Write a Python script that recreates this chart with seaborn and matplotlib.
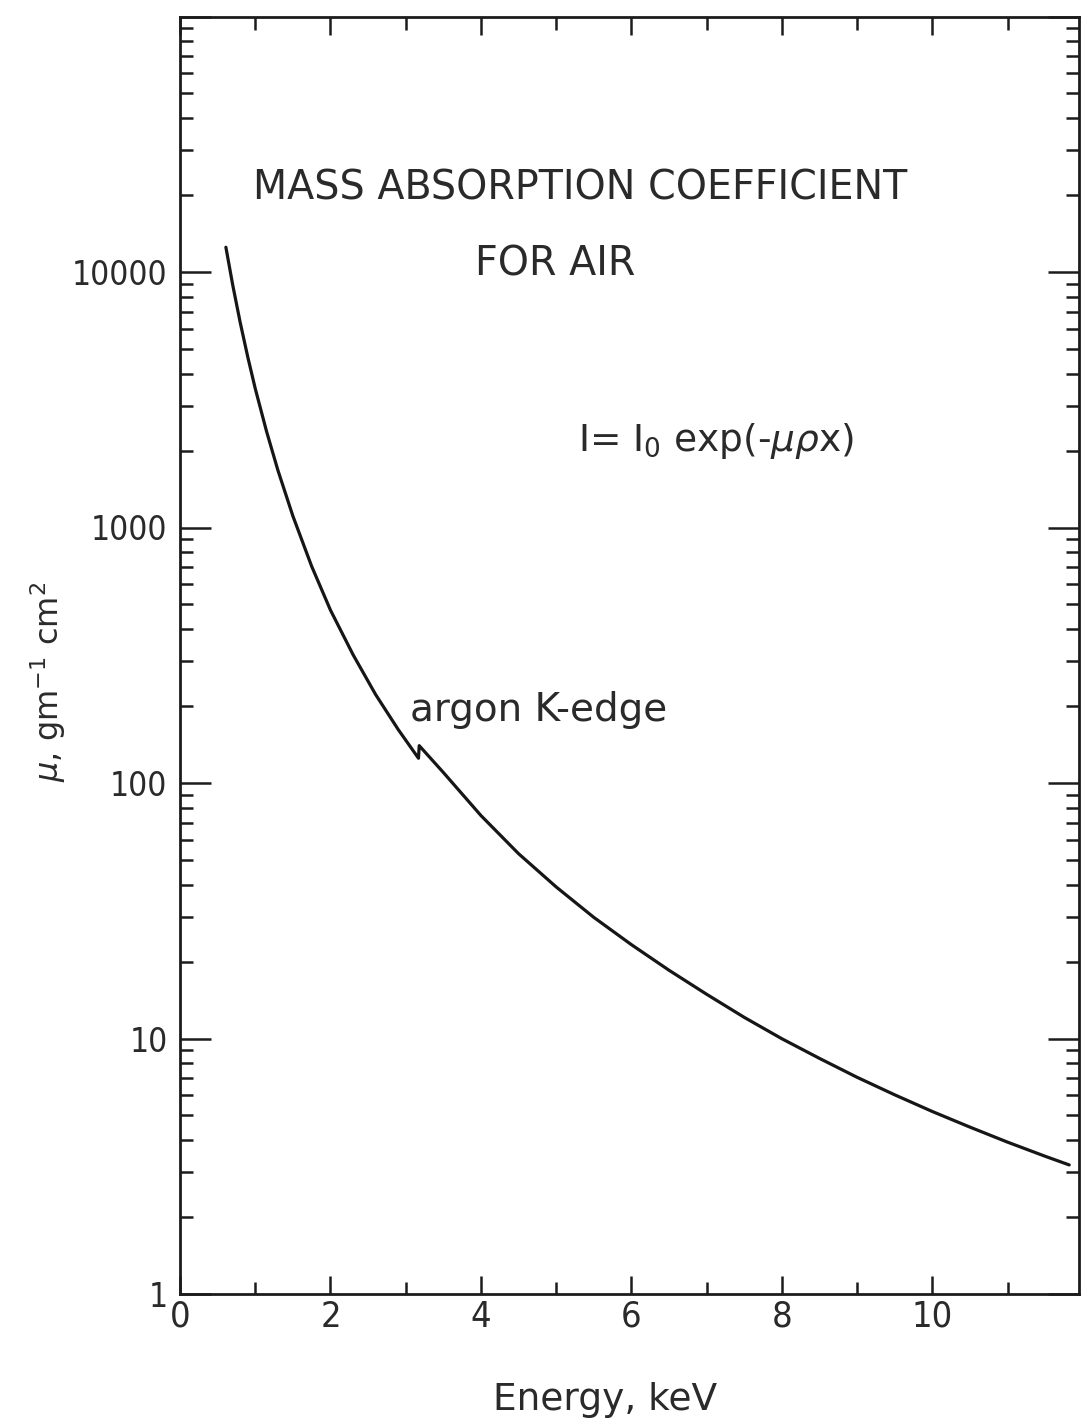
import matplotlib
matplotlib.use("Agg")
import matplotlib.pyplot as plt
from matplotlib import font_manager as fm
from matplotlib.ticker import MultipleLocator, LogLocator, FuncFormatter, NullFormatter
import seaborn as sns
import pandas as pd

# Mass absorption coefficient of air versus photon energy (argon K-edge near 3.2 keV)
energy_kev = [0.61, 0.70, 0.80, 0.90, 1.00, 1.15, 1.30, 1.50, 1.75, 2.00, 2.30, 2.60,
              2.90, 3.17,
              3.18, 3.50, 4.00, 4.50, 5.00, 5.50, 6.00, 6.50, 7.00, 7.50, 8.00, 8.50,
              9.00, 9.50, 10.00, 10.50, 11.00, 11.50, 11.82]
mu_cm2_per_g = [12500, 8920, 6350, 4660, 3500, 2380, 1680, 1110, 705, 475, 318, 222,
                162, 125,
                140, 110, 74.6, 52.9, 39.2, 29.8, 23.3, 18.5, 14.9, 12.1, 9.98, 8.36,
                7.05, 6.02, 5.18, 4.50, 3.93, 3.46, 3.20]

x_tick_values = [0, 2, 4, 6, 8, 10]
y_tick_values = [1, 10, 100, 1000, 10000]

title_lines = ["MASS ABSORPTION COEFFICIENT", "FOR AIR"]
equation_text = r"I= I$_0$ exp(-$\mu\rho$x)"
edge_text = "argon K-edge"
x_label = "Energy, keV"
y_label = r"$\mu$, gm$^{-1}$ cm$^{2}$"

sns.set_theme(style="ticks")
plt.rcParams["font.family"] = ["DejaVu Sans"]
plt.rcParams["mathtext.fontset"] = "dejavusans"

INK = "#2a2a2a"


def narrow_family():
    """Return a family/stretch pair for narrow digits if one is installed."""
    try:
        fm.findfont(fm.FontProperties(family="Liberation Sans Narrow"),
                    fallback_to_default=False)
        return "Liberation Sans Narrow", "normal"
    except ValueError:
        pass
    path = fm.findfont(fm.FontProperties(family="DejaVu Sans", stretch="condensed"))
    if "Condensed" in path:
        return "DejaVu Sans", "condensed"
    return "DejaVu Sans", "normal"


num_family, num_stretch = narrow_family()

W, H = 1088, 1422
fig = plt.figure(figsize=(W / 100, H / 100), dpi=100)
fig.patch.set_facecolor("white")

left, right, top, bottom = 180, 1079, 16.5, 1294
ax = fig.add_axes([left / W, 1 - bottom / H, (right - left) / W, (bottom - top) / H])
ax.set_facecolor("white")

df = pd.DataFrame({"energy": energy_kev, "mu": mu_cm2_per_g})
sns.lineplot(data=df, x="energy", y="mu", ax=ax, sort=False, estimator=None,
             color="#161616", linewidth=2.3)
ax.lines[0].set_solid_joinstyle("round")

ax.set_yscale("log")
ax.set_xlim(0, 11.95)
ax.set_ylim(1, 1e5)

# axis frame
for side in ["left", "right", "top", "bottom"]:
    ax.spines[side].set_visible(True)
    ax.spines[side].set_color("#1c1c1c")
    ax.spines[side].set_linewidth(2.0)

ax.xaxis.set_major_locator(MultipleLocator(2))
ax.xaxis.set_minor_locator(MultipleLocator(1))
ax.set_xticks(x_tick_values)
ax.yaxis.set_major_locator(LogLocator(base=10))
ax.yaxis.set_minor_locator(LogLocator(base=10, subs=range(2, 10)))
ax.yaxis.set_major_formatter(
    FuncFormatter(lambda v, p: f"{int(round(v))}" if v in y_tick_values else ""))
ax.yaxis.set_minor_formatter(NullFormatter())

ax.tick_params(which="both", direction="in", top=True, right=True,
               color="#1c1c1c", width=1.8, labelcolor=INK)
ax.tick_params(axis="x", which="major", length=13, pad=4, labelsize=26)
ax.tick_params(axis="x", which="minor", length=9)
ax.tick_params(axis="y", which="major", length=22, pad=9, labelsize=24)
ax.tick_params(axis="y", which="minor", length=9.5)

for lab in ax.get_xticklabels() + ax.get_yticklabels():
    lab.set_family(num_family)
    lab.set_stretch(num_stretch)

ax.set_xlabel("")
ax.set_ylabel("")


def fig_xy(px, py):
    return px / W, 1 - py / H


fig.text(*fig_xy(580, 200), title_lines[0], ha="center", va="baseline",
         fontsize=28.5, color=INK)
fig.text(*fig_xy(555, 276), title_lines[1], ha="center", va="baseline",
         fontsize=28.5, color=INK)
fig.text(*fig_xy(578, 451), equation_text, ha="left", va="baseline",
         fontsize=27, color=INK)
fig.text(*fig_xy(410, 721), edge_text, ha="left", va="baseline",
         fontsize=28, color=INK)
fig.text(*fig_xy(605, 1410), x_label, ha="center", va="baseline",
         fontsize=27, color=INK)
fig.text(*fig_xy(48, 682), y_label, ha="center", va="center", rotation=90,
         fontsize=23, color=INK)

fig.savefig("out.png", dpi=100, facecolor="white")
